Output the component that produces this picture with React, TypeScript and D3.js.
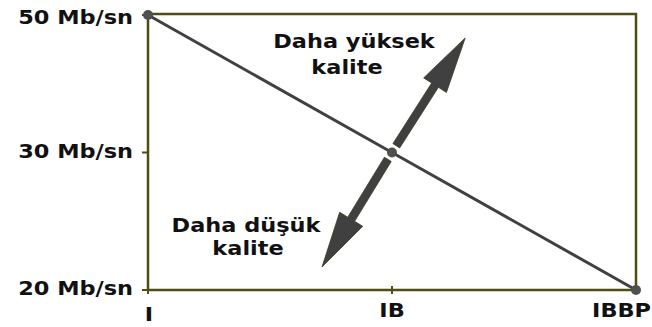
import React from "react";
import * as d3 from "d3";

const xCategories = ["I", "IB", "IBBP"];
const yCategories = ["20 Mb/sn", "30 Mb/sn", "50 Mb/sn"];
// line series: bitrate needed for each GOP structure
const seriesX = ["I", "IB", "IBBP"];
const seriesY = ["50 Mb/sn", "30 Mb/sn", "20 Mb/sn"];
// annotation arrows (in category-index units), from centre point outwards
const arrowTipX = [1.3, 0.713];
const arrowTipY = [1.833, 0.167];
const annotationTop = ["Daha yüksek", "kalite"];
const annotationBottom = ["Daha düşük", "kalite"];

const W = 652;
const H = 327;
const FONT = "'DejaVu Sans', Verdana, sans-serif";
const SX = 1.15;

function Label({ x, y, anchor, text, size = 19.5 }: { x: number; y: number; anchor: string; text: string; size?: number }) {
  return (
    <text
      transform={`translate(${x},${y}) scale(${SX},1)`}
      textAnchor={anchor}
      fontFamily={FONT}
      fontWeight="bold"
      fontSize={size}
      fill="#111"
    >
      {text}
    </text>
  );
}

export default function App() {
  const left = 148, right = 636, top = 15, bottom = 290;
  const x = d3.scalePoint<string>().domain(xCategories).range([left, right]);
  const y = d3.scalePoint<string>().domain(yCategories).range([bottom, top]);
  const xi = d3.scaleLinear().domain([0, 2]).range([left, right]);
  const yi = d3.scaleLinear().domain([0, 2]).range([bottom, top]);

  const pts: [number, number][] = seriesX.map((c, i) => [x(c)!, y(seriesY[i])!]);
  const line = d3.line()(pts) || "";
  const cx = x("IB")!;
  const cy = y("30 Mb/sn")!;

  const frameColor = "#4e4e12";
  const markColor = "#404040";

  const arrows = arrowTipX.map((tx, i) => {
    const tipX = xi(tx);
    const tipY = yi(arrowTipY[i]);
    const dx = tipX - cx, dy = tipY - cy;
    const len = Math.hypot(dx, dy);
    const ux = dx / len, uy = dy / len;
    const px = -uy, py = ux;
    const gap = 8, headLen = 56, headW = 13.5, shaftW = 4;
    const sx = cx + ux * gap, sy = cy + uy * gap;
    const bx = tipX - ux * headLen, by = tipY - uy * headLen;
    const p = [
      [sx + px * shaftW, sy + py * shaftW],
      [bx + px * shaftW, by + py * shaftW],
      [bx + px * headW, by + py * headW],
      [tipX, tipY],
      [bx - px * headW, by - py * headW],
      [bx - px * shaftW, by - py * shaftW],
      [sx - px * shaftW, sy - py * shaftW],
    ];
    return "M" + p.map((q) => q.join(",")).join("L") + "Z";
  });

  return (
    <svg width={W} height={H} style={{ position: "absolute", left: 0, top: 0, background: "#fff" }}>
      <rect x={left} y={top - 1} width={right - left} height={bottom - top + 1} fill="none" stroke={frameColor} strokeWidth={2.5} />
      {yCategories.map((c) => (
        <g key={c}>
          <line x1={left - 6} x2={left} y1={y(c)!} y2={y(c)!} stroke={frameColor} strokeWidth={2} />
          <Label x={133} y={Math.max(y(c)! + 5, 24)} anchor="end" text={c} />
        </g>
      ))}
      {xCategories.map((c, i) => {
        const last = i === xCategories.length - 1;
        return (
          <g key={c}>
            <line x1={x(c)!} x2={x(c)!} y1={bottom - 4} y2={bottom + 4} stroke={frameColor} strokeWidth={2} />
            <Label
              x={last ? W - 1 : x(c)! + (i === 0 ? 1 : 0)}
              y={bottom + 27 + (i === 0 ? 4 : 0)}
              anchor={last ? "end" : "middle"}
              text={c}
            />
          </g>
        );
      })}
      <path d={line} fill="none" stroke={markColor} strokeWidth={3} />
      {arrows.map((d, i) => (
        <path key={i} d={d} fill={markColor} stroke="#3a3a20" strokeWidth={0.8} />
      ))}
      {pts.map((p, i) => (
        <circle key={i} cx={p[0]} cy={p[1]} r={5} fill="#505050" />
      ))}
      <Label x={354} y={48} anchor="middle" text={annotationTop[0]} />
      <Label x={347} y={74} anchor="middle" text={annotationTop[1]} />
      <Label x={246} y={232} anchor="middle" text={annotationBottom[0]} />
      <Label x={248} y={255} anchor="middle" text={annotationBottom[1]} />
    </svg>
  );
}
